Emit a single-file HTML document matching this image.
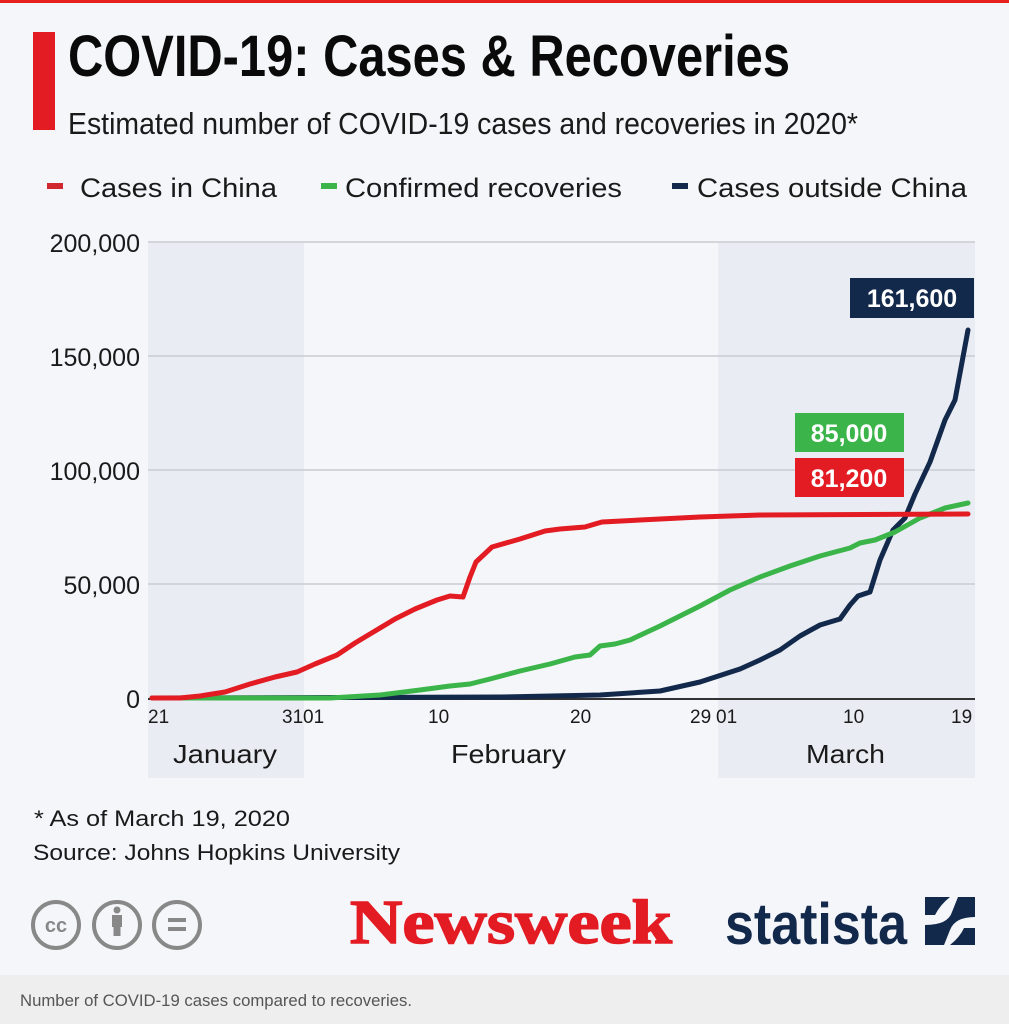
<!DOCTYPE html>
<html><head><meta charset="utf-8"><style>
html,body{margin:0;padding:0;background:#f4f6f9;}
svg{display:block;}
text{font-family:"Liberation Sans",sans-serif;}
</style></head><body>
<svg width="1009" height="1024" viewBox="0 0 1009 1024" xmlns="http://www.w3.org/2000/svg">
<rect x="0" y="0" width="1009" height="1024" fill="#f4f6f9"/>
<rect x="0" y="0" width="1009" height="3" fill="#e8211e"/>
<rect x="33" y="32" width="22" height="98" fill="#e31b23"/>
<text x="68" y="76" font-size="58" font-weight="bold" fill="#0a0a0a" textLength="722" lengthAdjust="spacingAndGlyphs">COVID-19: Cases &amp; Recoveries</text>
<text x="68" y="134" font-size="31" fill="#1a1a1a" textLength="790" lengthAdjust="spacingAndGlyphs">Estimated number of COVID-19 cases and recoveries in 2020*</text>
<!-- legend -->
<rect x="47" y="183" width="16" height="6" fill="#d0282e"/>
<text x="80" y="197" font-size="27" fill="#1a1a1a" textLength="197" lengthAdjust="spacingAndGlyphs">Cases in China</text>
<rect x="321" y="183" width="16" height="6" fill="#3bb54a"/>
<text x="345" y="197" font-size="27" fill="#1a1a1a" textLength="277" lengthAdjust="spacingAndGlyphs">Confirmed recoveries</text>
<rect x="672" y="183" width="16" height="6" fill="#13294b"/>
<text x="697" y="197" font-size="27" fill="#1a1a1a" textLength="270" lengthAdjust="spacingAndGlyphs">Cases outside China</text>
<!-- bands -->
<rect x="148" y="242" width="156" height="536" fill="#e9edf3"/>
<rect x="718" y="242" width="257" height="536" fill="#e9edf3"/>
<!-- grid -->
<g stroke="#c9ccd1" stroke-width="1.5">
<line x1="148" y1="242" x2="975" y2="242"/>
<line x1="148" y1="356" x2="975" y2="356"/>
<line x1="148" y1="470" x2="975" y2="470"/>
<line x1="148" y1="584" x2="975" y2="584"/>
</g>
<line x1="148" y1="699" x2="975" y2="699" stroke="#333" stroke-width="2"/>
<g font-size="25" fill="#1a1a1a" text-anchor="end">
<text x="140" y="252">200,000</text>
<text x="140" y="366">150,000</text>
<text x="140" y="480">100,000</text>
<text x="140" y="594">50,000</text>
<text x="140" y="708">0</text>
</g>
<g font-size="19" fill="#1a1a1a">
<text x="148" y="723">21</text>
<text x="282" y="723">31</text>
<text x="303" y="723">01</text>
<text x="428" y="723">10</text>
<text x="570" y="723">20</text>
<text x="690" y="723">29</text>
<text x="716" y="723">01</text>
<text x="843" y="723">10</text>
<text x="951" y="723">19</text>
</g>
<g font-size="26" fill="#1a1a1a">
<text x="173" y="763" textLength="104" lengthAdjust="spacingAndGlyphs">January</text>
<text x="451" y="763" textLength="115" lengthAdjust="spacingAndGlyphs">February</text>
<text x="806" y="763" textLength="79" lengthAdjust="spacingAndGlyphs">March</text>
</g>
<!-- series -->
<g fill="none" stroke-width="5" stroke-linejoin="round" stroke-linecap="round">
<polyline stroke="#13294b" points="152,698 500,697 600,695 660,691 700,682 740,669 760,660 780,650 800,636 820,625 840,619 850,605 858,596 870,592 880,560 893,530 905,518 915,494 930,462 945,420 955,400 968,330"/>
<polyline stroke="#3bb54a" points="152,698 330,698 380,695 420,690 450,686 470,684 490,679 520,671 550,664 575,657 590,655 600,646 615,644 630,640 660,626 700,606 730,590 760,577 790,566 820,556 850,548 860,543 875,540 895,532 920,518 945,508 968,503"/>
<polyline stroke="#e31b23" points="152,698 180,698 200,696 225,692 250,684 275,677 297,672 315,664 337,655 355,643 370,634 395,619 415,609 437,600 450,596 463,597 470,577 476,562 492,547 520,539 545,531 560,529 585,527 595,524 602,522 640,520 700,517 760,515 968,514"/>
</g>
<!-- value labels -->
<rect x="850" y="278" width="124" height="40" fill="#13294b"/>
<text x="912" y="307" font-size="25" font-weight="bold" fill="#fff" text-anchor="middle">161,600</text>
<rect x="795" y="413" width="109" height="39" fill="#3bb54a"/>
<text x="849" y="442" font-size="25" font-weight="bold" fill="#fff" text-anchor="middle">85,000</text>
<rect x="795" y="458" width="109" height="39" fill="#e31b23"/>
<text x="849" y="487" font-size="25" font-weight="bold" fill="#fff" text-anchor="middle">81,200</text>
<!-- notes -->
<text x="34" y="826" font-size="22" fill="#1a1a1a" textLength="256" lengthAdjust="spacingAndGlyphs">* As of March 19, 2020</text>
<text x="33" y="860" font-size="22" fill="#1a1a1a" textLength="367" lengthAdjust="spacingAndGlyphs">Source: Johns Hopkins University</text>
<!-- CC icons -->
<g stroke="#888" stroke-width="4" fill="none">
<circle cx="56" cy="925" r="23"/>
<circle cx="117" cy="925" r="23"/>
<circle cx="177" cy="925" r="23"/>
</g>
<text x="56" y="932" font-size="20" font-weight="bold" fill="#888" text-anchor="middle">cc</text>
<circle cx="117" cy="910" r="3.5" fill="#888"/>
<rect x="112" y="915" width="10" height="12" fill="#888"/>
<rect x="113.5" y="926" width="7" height="10" fill="#888"/>
<rect x="168" y="918" width="18" height="4" fill="#888"/>
<rect x="168" y="927" width="18" height="4" fill="#888"/>
<!-- logos -->
<text x="350" y="943" font-size="62" font-weight="bold" fill="#e31b23" stroke="#e31b23" stroke-width="1.5" textLength="322" lengthAdjust="spacingAndGlyphs" style="font-family:'Liberation Serif',serif">Newsweek</text>
<text x="725" y="944" font-size="58" font-weight="bold" fill="#13294b" textLength="182" lengthAdjust="spacingAndGlyphs">statista</text>
<path d="M925,945 L925,925 Q948,925 952,912 L958,897 L975,897 L975,917 Q955,917 950,930 L944,945 Z" fill="#13294b"/>
<path d="M925,897 L950,897 Q940,905 935,915 L925,915 Z" fill="#13294b"/>
<path d="M975,945 L950,945 Q960,937 964,928 L975,928 Z" fill="#13294b"/>
<!-- caption -->
<rect x="0" y="975" width="1009" height="49" fill="#eeeeef"/>
<text x="20" y="1006" font-size="17" fill="#555" textLength="392" lengthAdjust="spacingAndGlyphs">Number of COVID-19 cases compared to recoveries.</text>
</svg>
</body></html>
